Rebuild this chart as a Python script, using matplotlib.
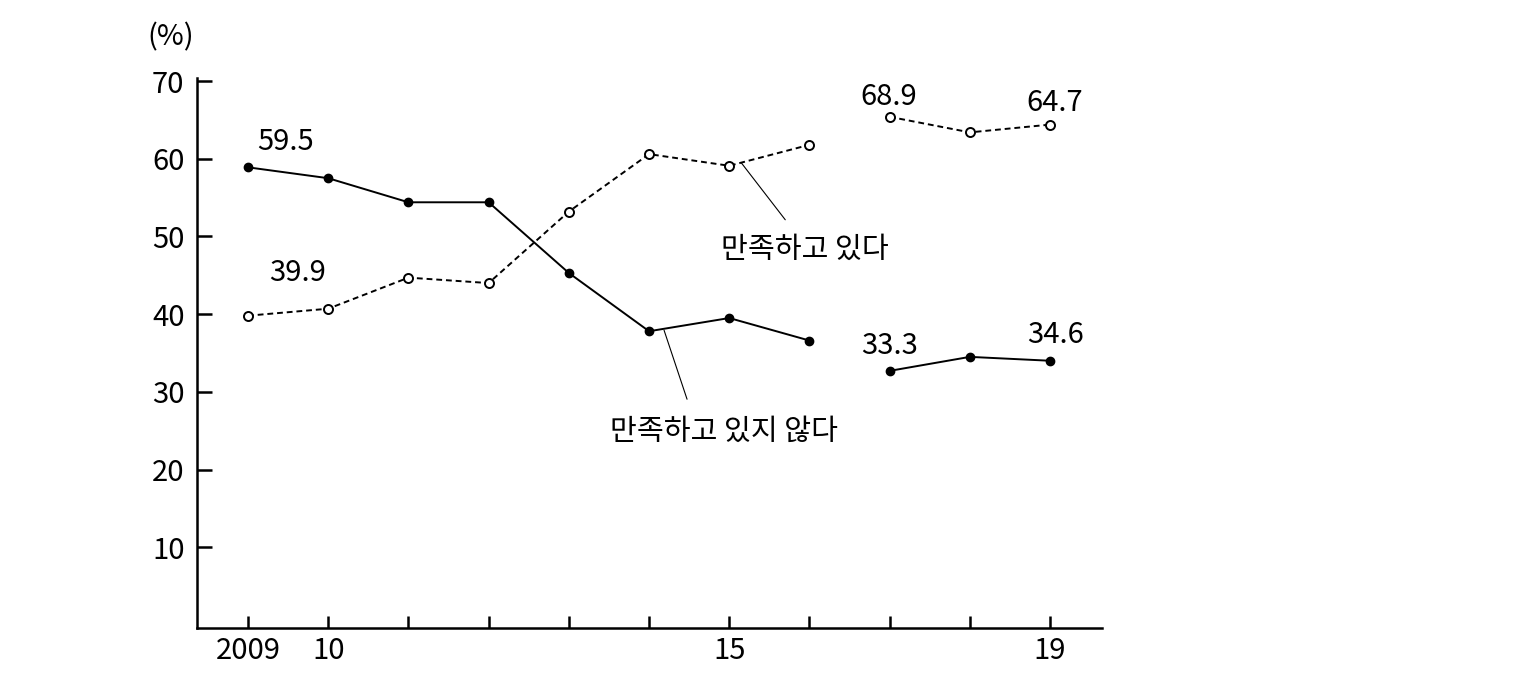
import numpy as np
import matplotlib
matplotlib.use("Agg")
import matplotlib.pyplot as plt
from matplotlib.transforms import offset_copy

plt.rcParams['font.family'] = ['Noto Sans CJK KR', 'DejaVu Sans']
plt.rcParams['font.weight'] = 'light'

years = [2009, 2010, 2011, 2012, 2013, 2014, 2015, 2016, 2017, 2018, 2019]
satisfied = [39.8, 40.7, 44.7, 44.0, 53.2, 60.6, 59.1, 61.8, 65.4, 63.4, 64.4]
not_satisfied = [58.9, 57.5, 54.4, 54.4, 45.3, 37.8, 39.5, 36.6, 32.7, 34.5, 34.0]

# labelled values (text as printed on the chart)
sat_labels = {2009: "39.9", 2017: "68.9", 2019: "64.7"}
not_labels = {2009: "59.5", 2017: "33.3", 2019: "34.6"}

xtick_labels = {2009: "2009", 2010: "10", 2015: "15", 2019: "19"}
yticks = [10, 20, 30, 40, 50, 60, 70]

fig = plt.figure(figsize=(15.39, 6.77), dpi=100)
ax = fig.add_axes([0.1280, 0.0724, 0.5881, 0.8124])

# survey break between 2016 and 2017
for seg in (slice(0, 8), slice(8, 11)):
    ax.plot(years[seg], not_satisfied[seg], color='black', lw=1.4,
            marker='o', ms=6, mfc='black', mec='black')
    ax.plot(years[seg], satisfied[seg], color='black', lw=1.4, dashes=(3, 2),
            marker='o', ms=6.5, mfc='white', mec='black', mew=1.4)

fs = 21
offs_sat = {2009: (50, 43), 2017: (-1, 20), 2019: (5, 22)}
offs_not = {2009: (37, 25), 2017: (0, 25), 2019: (5, 26)}
for yr, lab in sat_labels.items():
    i = years.index(yr)
    ax.annotate(lab, (yr, satisfied[i]), xytext=offs_sat[yr], textcoords='offset pixels',
                ha='center', va='center', fontsize=fs)
for yr, lab in not_labels.items():
    i = years.index(yr)
    ax.annotate(lab, (yr, not_satisfied[i]), xytext=offs_not[yr], textcoords='offset pixels',
                ha='center', va='center', fontsize=fs)

# series labels with leader lines
i15 = years.index(2015)
ax.annotate('', xy=(2015, satisfied[i15]),
            xycoords=offset_copy(ax.transData, fig=fig, x=12, y=3, units='dots'),
            xytext=(44, -57), textcoords='offset pixels',
            arrowprops=dict(arrowstyle='-', lw=0.8, color='black', shrinkA=0, shrinkB=0))
ax.annotate('만족하고 있다', (2015, satisfied[i15]), xytext=(76, -84),
            textcoords='offset pixels', ha='center', va='center', fontsize=fs)

i14 = years.index(2014)
ax.annotate('', xy=(2014, not_satisfied[i14]),
            xycoords=offset_copy(ax.transData, fig=fig, x=15, y=1, units='dots'),
            xytext=(23, -69), textcoords='offset pixels',
            arrowprops=dict(arrowstyle='-', lw=0.8, color='black', shrinkA=0, shrinkB=0))
ax.annotate('만족하고 있지 않다', (2014, not_satisfied[i14]), xytext=(75, -101),
            textcoords='offset pixels', ha='center', va='center', fontsize=fs)

ax.set_xlim(2008.364, 2019.648)
ax.set_ylim(-0.4, 70.4)
ax.set_xticks(years)
ax.set_xticklabels([xtick_labels.get(y, '') for y in years])
ax.set_yticks(yticks)
ax.set_yticklabels([str(v) for v in yticks])

ax.tick_params(axis='y', direction='in', length=11, width=1.8, pad=9, labelsize=fs)
ax.tick_params(axis='x', direction='in', length=9, width=1.8, pad=6, labelsize=fs)
for s in ('top', 'right'):
    ax.spines[s].set_visible(False)
for s in ('left', 'bottom'):
    ax.spines[s].set_linewidth(1.8)

ax.text(-0.0287, 1.073, '(%)', transform=ax.transAxes, ha='center', va='center', fontsize=fs)

fig.savefig('out.png', dpi=100)
